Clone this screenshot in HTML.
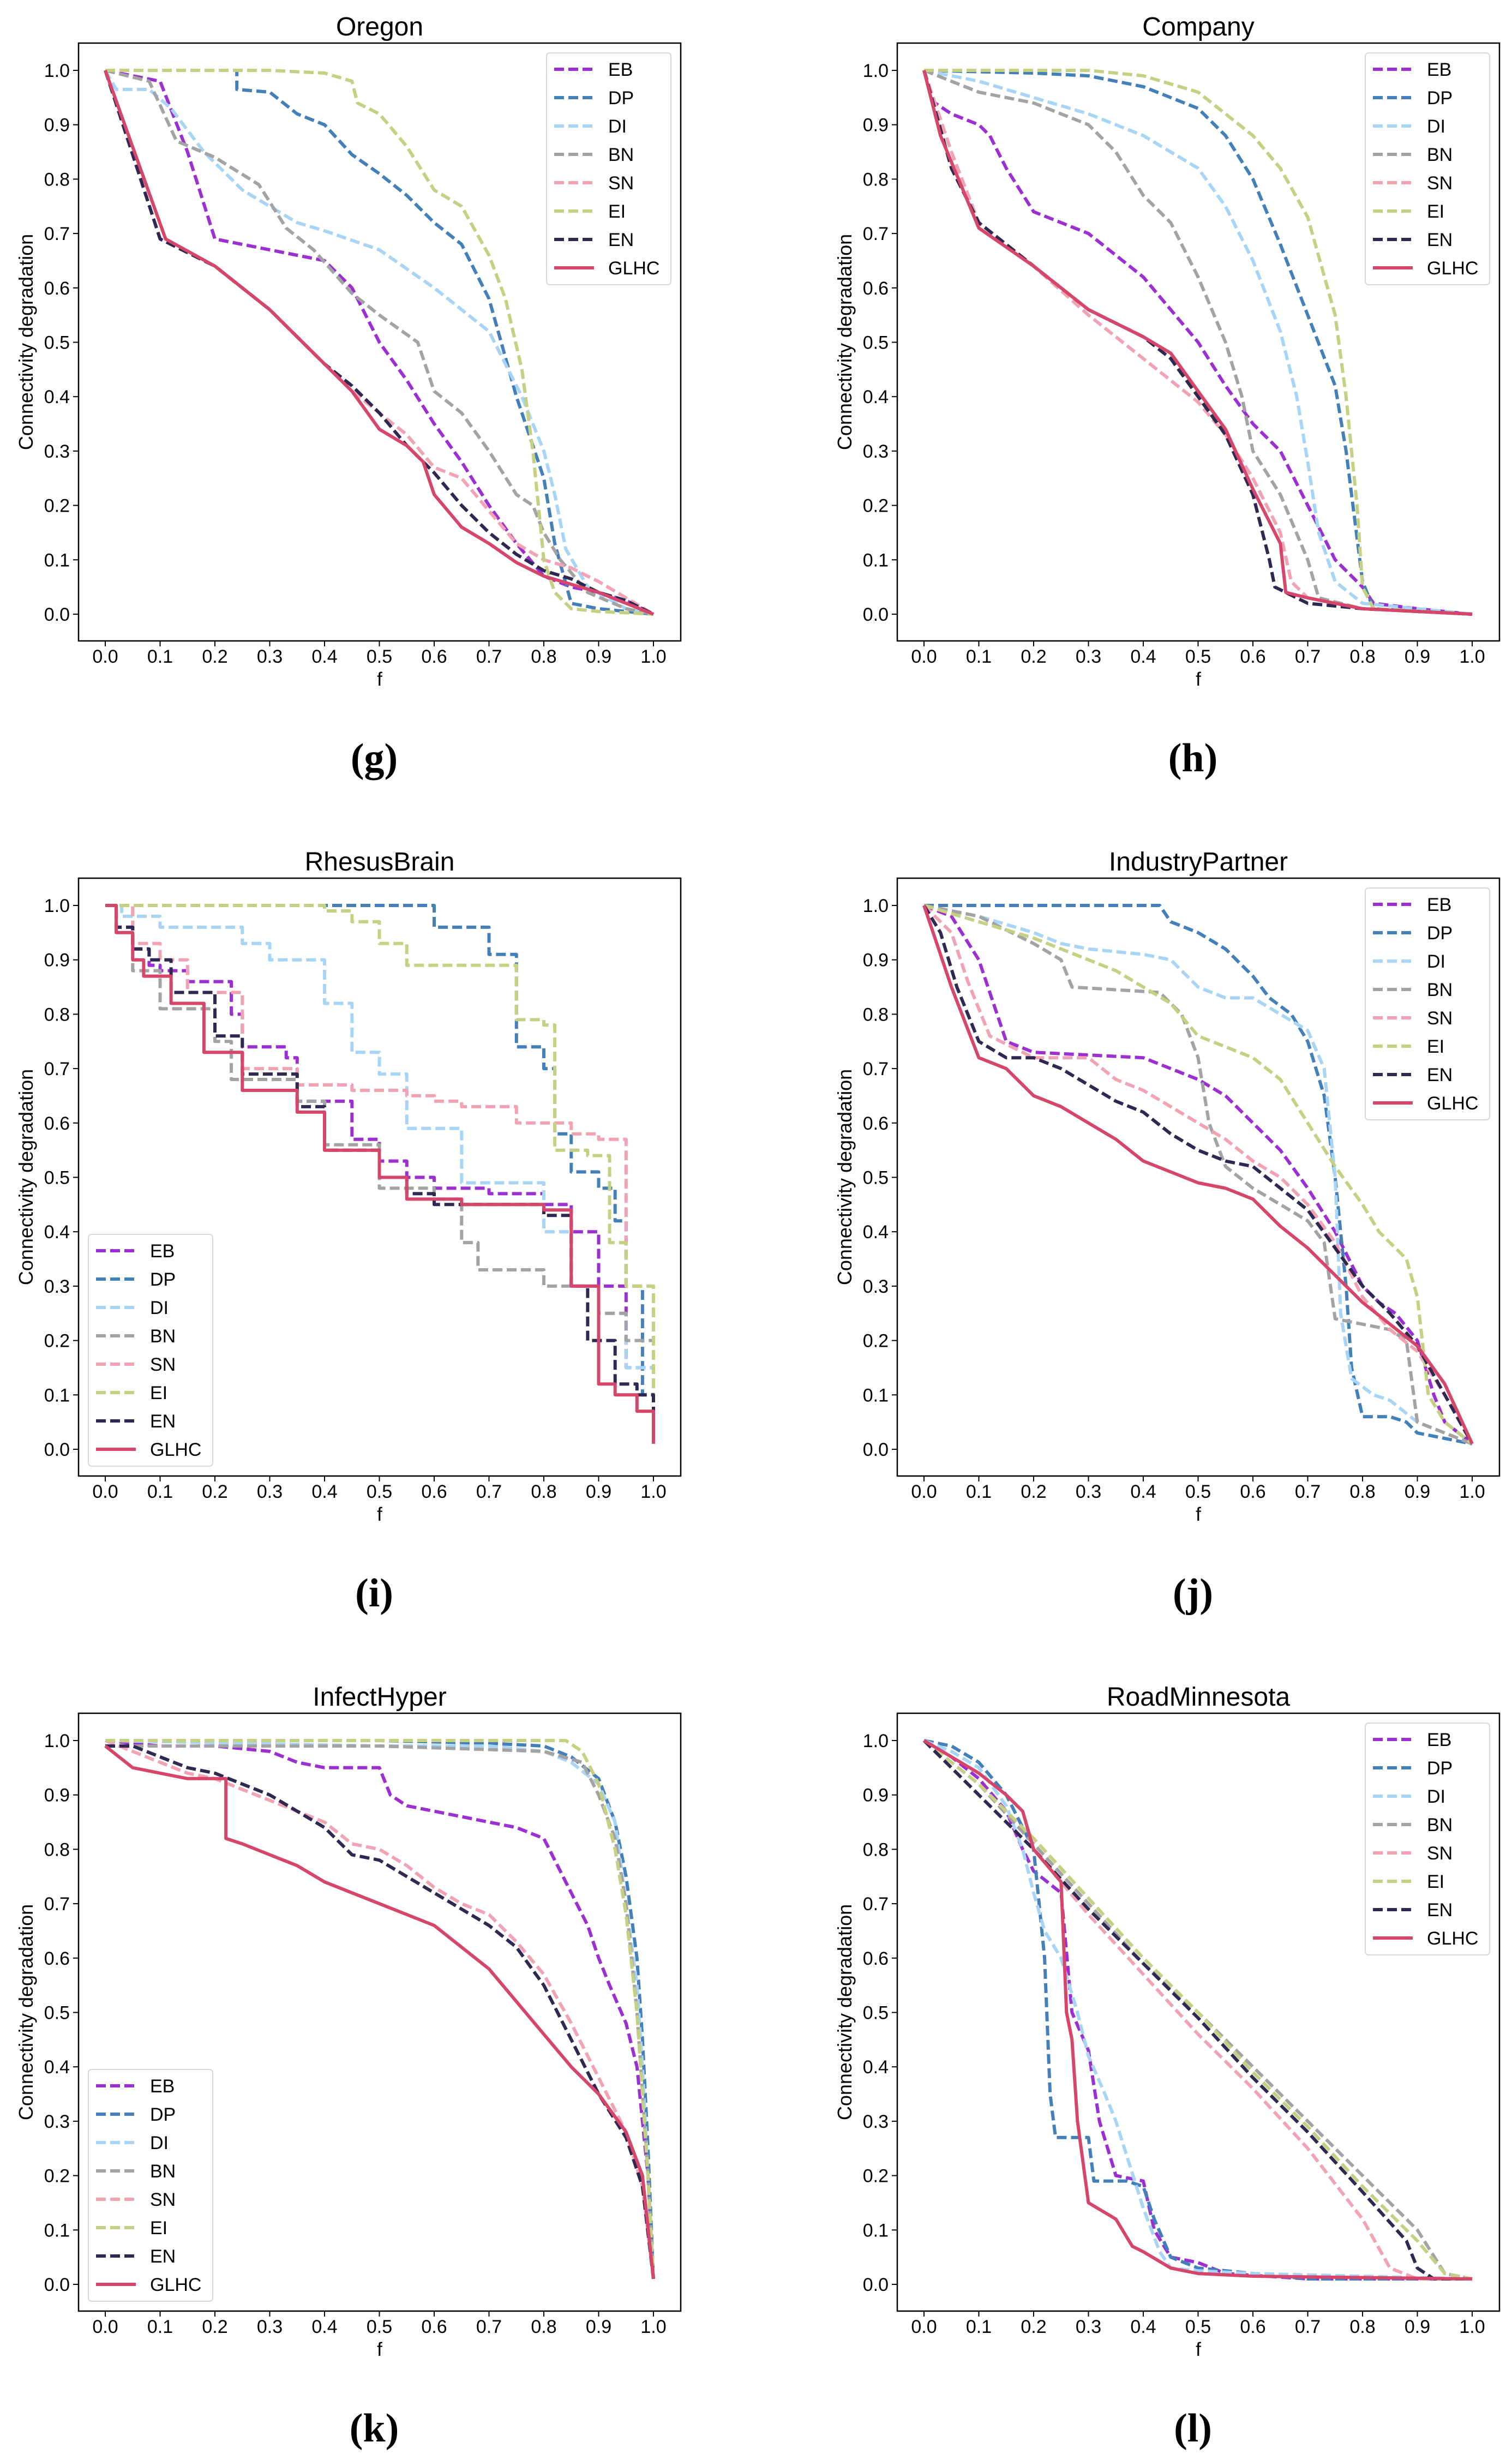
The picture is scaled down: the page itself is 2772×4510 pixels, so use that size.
<!DOCTYPE html>
<html><head><meta charset="utf-8"><style>
html,body{margin:0;padding:0;background:#fff;}
svg{display:block;font-family:"Liberation Sans","DejaVu Sans",sans-serif;}
</style></head><body>
<svg id="fig" xmlns="http://www.w3.org/2000/svg" width="2772" height="4510" viewBox="0 0 2772 4510"></svg>
<script>
const seriesNames = ["EB","DP","DI","BN","SN","EI","EN","GLHC"];
const seriesColors = ["#9b2fd1","#4380ba","#a8d4f5","#a3a3a3","#f2a3b3","#c6d083","#2f2850","#d6466b"];
const xTicks = [0,0.1,0.2,0.3,0.4,0.5,0.6,0.7,0.8,0.9,1.0];
const yTicks = [0,0.1,0.2,0.3,0.4,0.5,0.6,0.7,0.8,0.9,1.0];
const panelTitles = ["Oregon","Company","RhesusBrain","IndustryPartner","InfectHyper","RoadMinnesota"];
const panelLetters = ["(g)","(h)","(i)","(j)","(k)","(l)"];
const panelStep = [false,false,true,false,false,false];
const legendLower = [false,false,true,false,true,false];

const oregon = [
[[0,1],[0.05,0.99],[0.1,0.98],[0.15,0.85],[0.2,0.69],[0.3,0.67],[0.4,0.65],[0.45,0.6],[0.5,0.5],[0.55,0.43],[0.6,0.35],[0.65,0.28],[0.7,0.2],[0.75,0.13],[0.8,0.07],[0.85,0.05],[0.9,0.04],[0.95,0.025],[1,0]],
[[0,1],[0.24,1],[0.24,0.965],[0.3,0.96],[0.35,0.92],[0.4,0.9],[0.45,0.845],[0.5,0.81],[0.55,0.77],[0.6,0.72],[0.65,0.68],[0.7,0.58],[0.75,0.4],[0.8,0.25],[0.82,0.13],[0.85,0.02],[0.9,0.01],[1,0]],
[[0,1],[0.02,0.965],[0.08,0.965],[0.12,0.93],[0.18,0.85],[0.25,0.78],[0.3,0.75],[0.35,0.72],[0.4,0.705],[0.5,0.67],[0.6,0.6],[0.7,0.52],[0.76,0.4],[0.8,0.3],[0.82,0.22],[0.84,0.12],[0.88,0.05],[0.95,0.01],[1,0]],
[[0,1],[0.08,0.98],[0.13,0.87],[0.2,0.84],[0.28,0.79],[0.33,0.71],[0.38,0.67],[0.45,0.59],[0.5,0.55],[0.57,0.5],[0.6,0.41],[0.65,0.37],[0.7,0.3],[0.75,0.22],[0.78,0.2],[0.8,0.15],[0.83,0.1],[0.88,0.04],[0.95,0.01],[1,0]],
[[0,1],[0.1,0.69],[0.2,0.64],[0.3,0.56],[0.4,0.46],[0.45,0.41],[0.5,0.37],[0.55,0.33],[0.6,0.27],[0.65,0.25],[0.7,0.19],[0.75,0.13],[0.8,0.1],[0.85,0.085],[0.9,0.06],[0.95,0.03],[1,0]],
[[0,1],[0.3,1],[0.4,0.995],[0.45,0.98],[0.46,0.94],[0.5,0.92],[0.55,0.86],[0.6,0.78],[0.65,0.75],[0.7,0.66],[0.73,0.58],[0.76,0.45],[0.78,0.3],[0.79,0.2],[0.8,0.1],[0.82,0.04],[0.85,0.01],[0.9,0.005],[1,0]],
[[0,1],[0.1,0.69],[0.2,0.64],[0.3,0.56],[0.4,0.46],[0.45,0.42],[0.5,0.37],[0.55,0.31],[0.6,0.26],[0.65,0.2],[0.7,0.15],[0.75,0.11],[0.8,0.08],[0.85,0.065],[0.9,0.04],[0.95,0.025],[1,0]],
[[0,1],[0.11,0.69],[0.2,0.64],[0.3,0.56],[0.4,0.46],[0.45,0.41],[0.5,0.34],[0.55,0.31],[0.58,0.28],[0.6,0.22],[0.65,0.16],[0.7,0.13],[0.75,0.095],[0.8,0.07],[0.85,0.055],[0.9,0.04],[0.95,0.02],[1,0]]
];
const company = [
[[0,1],[0.02,0.94],[0.05,0.92],[0.1,0.9],[0.12,0.88],[0.15,0.82],[0.2,0.74],[0.3,0.7],[0.4,0.62],[0.5,0.5],[0.55,0.42],[0.6,0.35],[0.65,0.3],[0.7,0.2],[0.75,0.1],[0.8,0.05],[0.82,0.02],[0.9,0.01],[1,0]],
[[0,1],[0.2,0.995],[0.3,0.99],[0.4,0.97],[0.5,0.93],[0.55,0.88],[0.6,0.8],[0.65,0.68],[0.7,0.55],[0.75,0.42],[0.77,0.3],[0.8,0.06],[0.82,0.01],[1,0]],
[[0,1],[0.1,0.98],[0.2,0.95],[0.3,0.92],[0.4,0.88],[0.5,0.82],[0.55,0.75],[0.6,0.65],[0.65,0.52],[0.68,0.4],[0.7,0.28],[0.72,0.15],[0.75,0.06],[0.8,0.02],[0.9,0.01],[1,0]],
[[0,1],[0.1,0.96],[0.2,0.94],[0.3,0.9],[0.35,0.85],[0.4,0.77],[0.45,0.72],[0.5,0.62],[0.55,0.5],[0.58,0.4],[0.6,0.3],[0.65,0.22],[0.7,0.1],[0.72,0.03],[0.8,0.01],[1,0]],
[[0,1],[0.05,0.85],[0.1,0.72],[0.2,0.64],[0.3,0.55],[0.4,0.47],[0.5,0.39],[0.55,0.33],[0.6,0.25],[0.65,0.15],[0.67,0.06],[0.7,0.03],[0.8,0.01],[1,0]],
[[0,1],[0.3,1],[0.4,0.99],[0.5,0.96],[0.6,0.88],[0.65,0.82],[0.7,0.73],[0.75,0.55],[0.77,0.4],[0.79,0.2],[0.8,0.05],[0.82,0.01],[1,0]],
[[0,1],[0.05,0.82],[0.1,0.72],[0.2,0.64],[0.3,0.56],[0.4,0.51],[0.45,0.47],[0.5,0.4],[0.55,0.33],[0.6,0.22],[0.63,0.1],[0.64,0.05],[0.7,0.02],[0.8,0.01],[1,0]],
[[0,1],[0.03,0.88],[0.1,0.71],[0.2,0.64],[0.3,0.56],[0.4,0.51],[0.45,0.48],[0.5,0.41],[0.55,0.34],[0.6,0.23],[0.65,0.13],[0.66,0.04],[0.7,0.03],[0.8,0.01],[1,0]]
];
const rhesus = [
[[0,1],[0.02,0.96],[0.05,0.92],[0.08,0.89],[0.1,0.88],[0.15,0.86],[0.23,0.8],[0.25,0.74],[0.33,0.72],[0.35,0.64],[0.45,0.57],[0.5,0.53],[0.55,0.5],[0.6,0.48],[0.7,0.47],[0.8,0.45],[0.85,0.4],[0.9,0.3],[0.95,0.15],[1,0.01]],
[[0,1],[0.55,1],[0.6,0.96],[0.7,0.91],[0.75,0.74],[0.8,0.7],[0.82,0.58],[0.85,0.51],[0.9,0.48],[0.93,0.42],[0.95,0.3],[0.98,0.1],[1,0.01]],
[[0,1],[0.03,0.98],[0.1,0.96],[0.25,0.93],[0.3,0.9],[0.4,0.82],[0.45,0.73],[0.5,0.69],[0.55,0.59],[0.65,0.49],[0.8,0.4],[0.85,0.3],[0.9,0.25],[0.95,0.15],[1,0.01]],
[[0,1],[0.05,0.88],[0.1,0.81],[0.2,0.75],[0.23,0.68],[0.35,0.64],[0.4,0.56],[0.5,0.48],[0.6,0.46],[0.65,0.38],[0.68,0.33],[0.8,0.3],[0.9,0.25],[0.95,0.2],[1,0.01]],
[[0,1],[0.05,0.93],[0.1,0.9],[0.15,0.84],[0.25,0.7],[0.35,0.67],[0.45,0.66],[0.55,0.65],[0.6,0.64],[0.65,0.63],[0.75,0.6],[0.85,0.58],[0.9,0.57],[0.95,0.3],[1,0.01]],
[[0,1],[0.4,0.99],[0.45,0.97],[0.5,0.93],[0.55,0.89],[0.7,0.89],[0.75,0.79],[0.8,0.78],[0.82,0.55],[0.88,0.54],[0.92,0.38],[0.95,0.3],[1,0.01]],
[[0,1],[0.02,0.96],[0.05,0.92],[0.08,0.9],[0.12,0.84],[0.2,0.76],[0.25,0.69],[0.3,0.69],[0.35,0.63],[0.4,0.55],[0.5,0.5],[0.55,0.47],[0.6,0.45],[0.8,0.43],[0.85,0.3],[0.88,0.2],[0.93,0.12],[0.97,0.1],[1,0.01]],
[[0,1],[0.02,0.95],[0.05,0.9],[0.07,0.87],[0.12,0.82],[0.18,0.73],[0.25,0.66],[0.35,0.62],[0.4,0.55],[0.5,0.5],[0.55,0.46],[0.65,0.45],[0.8,0.44],[0.85,0.3],[0.9,0.12],[0.93,0.1],[0.97,0.07],[1,0.01]]
];
const industry = [
[[0,1],[0.05,0.98],[0.1,0.9],[0.15,0.75],[0.2,0.73],[0.4,0.72],[0.45,0.7],[0.5,0.68],[0.55,0.65],[0.6,0.6],[0.65,0.55],[0.7,0.48],[0.75,0.4],[0.8,0.3],[0.83,0.27],[0.86,0.25],[0.9,0.2],[0.93,0.1],[0.95,0.05],[1,0.01]],
[[0,1],[0.43,1],[0.45,0.97],[0.5,0.95],[0.55,0.92],[0.6,0.87],[0.63,0.83],[0.67,0.8],[0.7,0.75],[0.73,0.65],[0.75,0.5],[0.77,0.3],[0.78,0.15],[0.8,0.06],[0.85,0.06],[0.88,0.05],[0.9,0.03],[1,0.01]],
[[0,1],[0.05,0.99],[0.1,0.98],[0.2,0.95],[0.25,0.93],[0.3,0.92],[0.4,0.91],[0.45,0.9],[0.5,0.85],[0.55,0.83],[0.6,0.83],[0.65,0.8],[0.7,0.77],[0.73,0.7],[0.75,0.5],[0.76,0.25],[0.78,0.13],[0.82,0.1],[0.85,0.09],[0.9,0.05],[1,0.01]],
[[0,1],[0.1,0.98],[0.2,0.93],[0.25,0.9],[0.27,0.85],[0.43,0.84],[0.47,0.8],[0.5,0.72],[0.52,0.6],[0.55,0.52],[0.6,0.48],[0.65,0.45],[0.7,0.42],[0.73,0.38],[0.75,0.24],[0.8,0.23],[0.85,0.22],[0.88,0.2],[0.9,0.05],[1,0.01]],
[[0,1],[0.05,0.95],[0.08,0.86],[0.12,0.76],[0.2,0.72],[0.3,0.72],[0.35,0.68],[0.4,0.66],[0.45,0.63],[0.5,0.6],[0.55,0.57],[0.6,0.53],[0.65,0.5],[0.7,0.45],[0.75,0.38],[0.8,0.28],[0.85,0.22],[0.9,0.18],[0.95,0.1],[1,0.01]],
[[0,1],[0.1,0.97],[0.2,0.94],[0.3,0.9],[0.35,0.88],[0.4,0.85],[0.45,0.82],[0.5,0.76],[0.55,0.74],[0.6,0.72],[0.65,0.68],[0.7,0.6],[0.75,0.52],[0.8,0.45],[0.83,0.4],[0.86,0.37],[0.88,0.35],[0.9,0.28],[0.92,0.1],[0.95,0.05],[1,0.01]],
[[0,1],[0.03,0.95],[0.06,0.85],[0.1,0.75],[0.15,0.72],[0.2,0.72],[0.25,0.7],[0.3,0.67],[0.35,0.64],[0.4,0.62],[0.45,0.58],[0.5,0.55],[0.55,0.53],[0.6,0.52],[0.65,0.48],[0.7,0.44],[0.75,0.37],[0.8,0.3],[0.85,0.25],[0.9,0.19],[0.95,0.1],[1,0.01]],
[[0,1],[0.05,0.85],[0.1,0.72],[0.15,0.7],[0.2,0.65],[0.25,0.63],[0.3,0.6],[0.35,0.57],[0.4,0.53],[0.45,0.51],[0.5,0.49],[0.55,0.48],[0.6,0.46],[0.65,0.41],[0.7,0.37],[0.75,0.32],[0.8,0.27],[0.85,0.23],[0.9,0.19],[0.95,0.12],[1,0.01]]
];
const infect = [
[[0,1],[0.1,0.99],[0.2,0.99],[0.3,0.98],[0.35,0.96],[0.4,0.95],[0.5,0.95],[0.52,0.9],[0.55,0.88],[0.6,0.87],[0.65,0.86],[0.7,0.85],[0.75,0.84],[0.8,0.82],[0.82,0.78],[0.85,0.72],[0.88,0.66],[0.9,0.6],[0.92,0.55],[0.95,0.48],[0.97,0.4],[0.99,0.2],[1,0.01]],
[[0,1],[0.5,1],[0.7,0.995],[0.8,0.99],[0.85,0.97],[0.9,0.93],[0.93,0.85],[0.95,0.75],[0.97,0.6],[0.98,0.45],[0.99,0.25],[1,0.01]],
[[0,1],[0.5,0.99],[0.7,0.99],[0.8,0.98],[0.85,0.96],[0.9,0.92],[0.93,0.85],[0.95,0.7],[0.97,0.55],[0.98,0.4],[0.99,0.2],[1,0.01]],
[[0,0.99],[0.5,0.99],[0.8,0.98],[0.87,0.96],[0.9,0.9],[0.93,0.82],[0.95,0.7],[0.97,0.5],[0.99,0.2],[1,0.01]],
[[0,1],[0.05,0.98],[0.1,0.96],[0.15,0.94],[0.2,0.93],[0.25,0.91],[0.3,0.89],[0.35,0.87],[0.4,0.85],[0.45,0.81],[0.5,0.8],[0.55,0.77],[0.6,0.73],[0.65,0.7],[0.7,0.68],[0.75,0.63],[0.8,0.57],[0.85,0.48],[0.9,0.38],[0.95,0.28],[0.98,0.18],[1,0.01]],
[[0,1],[0.84,1],[0.87,0.98],[0.9,0.92],[0.93,0.8],[0.95,0.68],[0.97,0.5],[0.98,0.35],[0.99,0.2],[1,0.01]],
[[0,0.99],[0.05,0.99],[0.1,0.97],[0.15,0.95],[0.2,0.94],[0.25,0.92],[0.3,0.9],[0.35,0.87],[0.4,0.84],[0.45,0.79],[0.5,0.78],[0.55,0.75],[0.6,0.72],[0.65,0.69],[0.7,0.66],[0.75,0.62],[0.8,0.55],[0.85,0.45],[0.9,0.35],[0.95,0.27],[0.98,0.18],[1,0.01]],
[[0,0.99],[0.05,0.95],[0.1,0.94],[0.15,0.93],[0.2,0.93],[0.22,0.93],[0.22,0.82],[0.25,0.81],[0.3,0.79],[0.35,0.77],[0.4,0.74],[0.45,0.72],[0.5,0.7],[0.55,0.68],[0.6,0.66],[0.65,0.62],[0.7,0.58],[0.75,0.52],[0.8,0.46],[0.85,0.4],[0.9,0.35],[0.95,0.28],[0.98,0.2],[1,0.01]]
];
const road = [
[[0,1],[0.05,0.97],[0.1,0.93],[0.15,0.87],[0.18,0.8],[0.2,0.76],[0.25,0.72],[0.27,0.5],[0.3,0.43],[0.32,0.3],[0.35,0.2],[0.4,0.19],[0.42,0.1],[0.45,0.05],[0.5,0.04],[0.55,0.02],[0.7,0.01],[1,0.01]],
[[0,1],[0.05,0.99],[0.1,0.96],[0.15,0.9],[0.2,0.8],[0.22,0.6],[0.23,0.35],[0.24,0.27],[0.3,0.27],[0.31,0.19],[0.37,0.19],[0.4,0.18],[0.42,0.12],[0.45,0.05],[0.5,0.03],[0.6,0.02],[0.7,0.01],[1,0.01]],
[[0,1],[0.05,0.98],[0.1,0.95],[0.15,0.88],[0.18,0.8],[0.2,0.72],[0.22,0.65],[0.25,0.6],[0.28,0.5],[0.3,0.42],[0.33,0.35],[0.35,0.3],[0.4,0.14],[0.43,0.06],[0.45,0.03],[0.5,0.025],[0.6,0.02],[1,0.01]],
[[0,1],[0.1,0.92],[0.2,0.81],[0.3,0.7],[0.4,0.59],[0.5,0.5],[0.6,0.4],[0.7,0.3],[0.8,0.2],[0.9,0.1],[0.95,0.02],[1,0.01]],
[[0,1],[0.1,0.9],[0.2,0.8],[0.3,0.68],[0.4,0.57],[0.5,0.46],[0.6,0.36],[0.7,0.25],[0.8,0.12],[0.85,0.03],[0.9,0.01],[1,0.01]],
[[0,1],[0.1,0.92],[0.2,0.82],[0.3,0.71],[0.4,0.6],[0.5,0.5],[0.6,0.39],[0.7,0.29],[0.8,0.18],[0.9,0.08],[0.95,0.02],[1,0.01]],
[[0,1],[0.1,0.9],[0.2,0.8],[0.3,0.69],[0.4,0.59],[0.5,0.49],[0.6,0.38],[0.7,0.28],[0.8,0.17],[0.88,0.08],[0.9,0.03],[0.93,0.01],[1,0.01]],
[[0,1],[0.05,0.97],[0.1,0.94],[0.15,0.9],[0.18,0.87],[0.2,0.8],[0.25,0.74],[0.26,0.5],[0.27,0.45],[0.28,0.3],[0.3,0.15],[0.35,0.12],[0.38,0.07],[0.4,0.06],[0.45,0.03],[0.5,0.02],[0.6,0.015],[1,0.01]]
];
const panelData = [oregon, company, rhesus, industry, infect, road];

const NS = "http://www.w3.org/2000/svg";
const svg = document.getElementById("fig");
function mk(tag, attrs, parent){
  const e = document.createElementNS(NS, tag);
  for (const k in attrs) e.setAttribute(k, attrs[k]);
  (parent||svg).appendChild(e);
  return e;
}
const W = 1104, H = 1096;
panelTitles.forEach((title, p) => {
  const col = p % 2, row = Math.floor(p / 2);
  const L = 144 + col * 1501, T = 79 + row * 1531;
  const xs = v => L + 49 + v * 1005;
  const ys = v => T + 1047 - v * 997;
  const g = mk("g", {});
  
  
  const t = mk("text", {x: L + W/2, y: T - 14, "text-anchor": "middle", "font-size": 48, fill: "#000"}, g);
  t.textContent = title;
  
  
  const clipId = "clip" + p;
  const cp = mk("clipPath", {id: clipId}, g);
  mk("rect", {x: L, y: T, width: W, height: H}, cp);
  panelData[p].forEach((pts, s) => {
    let d = "";
    pts.forEach((pt, i) => {
      const X = xs(pt[0]).toFixed(1), Y = ys(pt[1]).toFixed(1);
      if (i === 0) d += "M" + X + " " + Y;
      else if (panelStep[p]) d += " H" + X + " V" + Y;
      else d += " L" + X + " " + Y;
    });
    const path = mk("path", {d: d, fill: "none", stroke: seriesColors[s], "stroke-width": 6,
      "stroke-dasharray": seriesNames[s] === "GLHC" ? "none" : "18 8", "stroke-linejoin": "round", "clip-path": "url(#" + clipId + ")"}, g);
    
    
  });
  const frame = mk("rect", {x: L, y: T, width: W, height: H, fill: "none", stroke: "#000", "stroke-width": 2.5}, g);
  
  
  xTicks.forEach(v => {
    mk("line", {x1: xs(v), x2: xs(v), y1: T + H, y2: T + H + 10, stroke: "#000", "stroke-width": 2}, g);
    const tl = mk("text", {x: xs(v), y: T + H + 40, "text-anchor": "middle", "font-size": 34, fill: "#000"}, g);
    tl.textContent = v.toFixed(1);
    
    
  });
  yTicks.forEach(v => {
    mk("line", {x1: L - 10, x2: L, y1: ys(v), y2: ys(v), stroke: "#000", "stroke-width": 2}, g);
    const tl = mk("text", {x: L - 16, y: ys(v) + 12, "text-anchor": "end", "font-size": 34, fill: "#000"}, g);
    tl.textContent = v.toFixed(1);
    
    
  });
  const xl = mk("text", {x: L + W/2, y: T + H + 82, "text-anchor": "middle", "font-size": 35, fill: "#000"}, g);
  xl.textContent = "f";
  
  
  const yc = T + H/2;
  const yl = mk("text", {x: L - 84, y: yc, "text-anchor": "middle", "font-size": 36, fill: "#000", transform: "rotate(-90 " + (L - 84) + " " + yc + ")"}, g);
  yl.textContent = "Connectivity degradation";
  
  
  const LW = 228, LH = 425;
  const lx = legendLower[p] ? L + 18 : L + W - 18 - LW;
  const ly = legendLower[p] ? T + H - 18 - LH : T + 18;
  const lg = mk("g", {}, g);
  
  
  mk("rect", {x: lx, y: ly, width: LW, height: LH, rx: 6, fill: "#fff", "fill-opacity": 0.85, stroke: "#d8d8d8", "stroke-width": 2}, lg);
  seriesNames.forEach((n, s) => {
    const cy = ly + 30 + s * 52;
    const ln = mk("line", {x1: lx + 14, x2: lx + 87, y1: cy, y2: cy, stroke: seriesColors[s], "stroke-width": 6,
      "stroke-dasharray": n === "GLHC" ? "none" : "18 8"}, lg);
    
    
    const lt = mk("text", {x: lx + 113, y: cy + 12, "font-size": 34, fill: "#000"}, lg);
    lt.textContent = n;
    
    
  });
  const lab = mk("text", {x: L + W/2 - 10, y: T + 1335, "text-anchor": "middle", "font-size": 74, "font-weight": "bold", fill: "#000", "font-family": "Liberation Serif, serif"}, g);
  lab.textContent = panelLetters[p];
  
  
});
</script>
</body></html>
